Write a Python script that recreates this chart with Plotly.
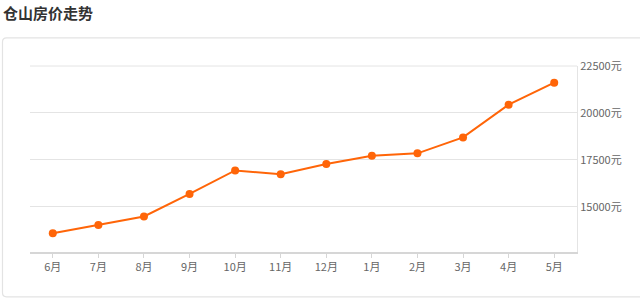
import plotly.graph_objects as go

months = ["6月", "7月", "8月", "9月", "10月", "11月", "12月", "1月", "2月", "3月", "4月", "5月"]
prices = [13600, 14040, 14490, 15690, 16940, 16740, 17280, 17720, 17850, 18700, 20440, 21610]
y_ticks = [15000, 17500, 20000, 22500]
y_tick_labels = [f"{v}元" for v in y_ticks]

W, H = 640, 302
L, R, T, B = 30, 577, 66, 251.7


def px(x):
    return (x - L) / (R - L)


def py(y):
    return (B - y) / (B - T)


fig = go.Figure()
fig.add_trace(go.Scatter(
    x=list(range(len(months))), y=prices, mode="lines+markers",
    line=dict(color="#ff6508", width=2),
    marker=dict(color="#ff6508", size=8),
    hoverinfo="skip", showlegend=False,
))

# card frame (rounded rectangle, open on the right edge)
r = 4
xl, yt, yb, xr = 2.5, 38, 296.5, 660
fig.add_shape(type="path", xref="paper", yref="paper",
              path=(f"M {px(xr)} {py(yt)} L {px(xl + r)} {py(yt)} "
                    f"Q {px(xl)} {py(yt)} {px(xl)} {py(yt + r)} "
                    f"L {px(xl)} {py(yb - r)} Q {px(xl)} {py(yb)} {px(xl + r)} {py(yb)} "
                    f"L {px(xr)} {py(yb)}"),
              line=dict(color="#e3e3e3", width=1.2), layer="below")

# top border of plot area
fig.add_shape(type="line", xref="paper", yref="paper", x0=0, x1=1, y0=1, y1=1,
              line=dict(color="#e4e4e4", width=1), layer="below")

fig.add_annotation(text="<b>仓山房价走势</b>", xref="paper", yref="paper",
                   x=px(1), y=py(13),
                   xanchor="left", yanchor="middle", showarrow=False,
                   font=dict(size=15, color="#333333", family="Noto Sans CJK SC"))

fig.update_layout(
    width=W, height=H,
    margin=dict(l=L, r=W - R, t=T, b=H - B, pad=0),
    paper_bgcolor="white", plot_bgcolor="white",
    font=dict(family="Noto Sans CJK SC", size=11, color="#666666"),
    xaxis=dict(
        tickmode="array", tickvals=list(range(len(months))), ticktext=months,
        range=[-0.5, len(months) - 0.5], showgrid=False, zeroline=False,
        showline=True, linecolor="#d6d6d6", linewidth=2,
        ticks="outside", ticklen=4, tickcolor="#d6d6d6", tickwidth=1,
        tickfont=dict(size=11, color="#666666"), fixedrange=True,
    ),
    yaxis=dict(
        side="right", range=[12600, 22500],
        tickmode="array", tickvals=y_ticks, ticktext=y_tick_labels,
        showgrid=True, gridcolor="#e4e4e4", gridwidth=1, zeroline=False,
        showline=True, linecolor="#e4e4e4", linewidth=1,
        ticks="", tickfont=dict(size=11, color="#666666"), fixedrange=True,
    ),
)

fig.write_html("out.html")
